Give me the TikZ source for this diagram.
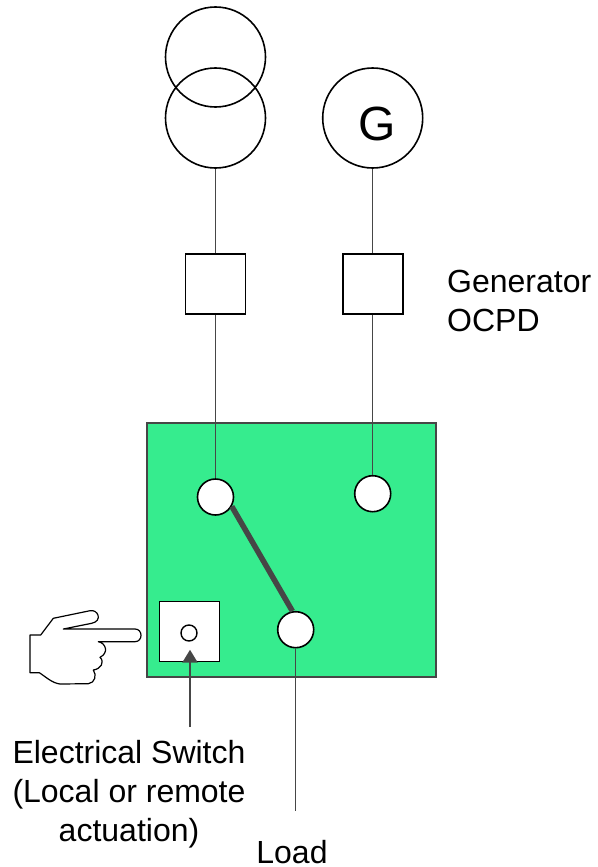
\documentclass[tikz,border=0pt]{standalone}
\usepackage{fontspec}
\setmainfont{Liberation Sans}
\usetikzlibrary{arrows.meta, positioning}
\definecolor{busgreen}{RGB}{54,236,142}
\definecolor{wiregray}{RGB}{70,70,70}
\tikzset{coilnode/.style={circle, draw=black, line width=1.6pt, minimum size=100pt, inner sep=0pt},
ocpdnode/.style={rectangle, draw=black, fill=white, line width=1.6pt, minimum size=60pt, inner sep=0pt},
terminalnode/.style={circle, fill=white, draw=black, line width=1.6pt, minimum size=36pt, inner sep=0pt},
labeltext/.style={font=\fontsize{32}{39}\selectfont, align=center, inner sep=0pt}}
\begin{document}
\begin{tikzpicture}[
        x=1pt, y=-1pt,
        wire/.style={wiregray, line width=1pt}
    ]
        \useasboundingbox (0, 0) rectangle (597, 867);
        % Source symbols
        \node [coilnode] (coiltop) at (215.5, 57) {};
        \node [coilnode] (coilbottom) at (215.5, 118) {};
        \node [coilnode] (generator) at (372.7, 118) {};
        \node [font=\fontsize{48}{48}\selectfont, inner sep=0pt] (genletter) at (377, 124) {G};
        % Breakers
        \node [ocpdnode] (ocpdleft) at (215.5, 284) {};
        \node [ocpdnode] (ocpdright) at (372.7, 284) {};
        \node [labeltext, anchor=north west, align=left] (ocpdlabel) at (447, 270) {Generator\\OCPD};
        % Transfer switch
        \node [rectangle, draw=wiregray, fill=busgreen, line width=1.6pt, minimum width=289pt, minimum height=254pt, inner sep=0pt] (atsbox) at (291.5, 550) {};
        \node [terminalnode] (termleft) at (215.5, 497) {};
        \node [terminalnode] (termright) at (372.7, 493.7) {};
        \node [terminalnode] (termload) at (295.7, 629.7) {};
        \node [ocpdnode] (switchbox) at (189.3, 631.5) {};
        \node [circle, draw=black, fill=white, line width=1.4pt, minimum size=16pt, inner sep=0pt] (switchdot) at (189, 633) {};
        % Lines
        \draw[wire] (coilbottom.south) -- (ocpdleft.north);
        \draw[wire] (generator.south) -- (ocpdright.north);
        \draw[wire] (ocpdleft.south) -- (termleft.north);
        \draw[wire] (ocpdright.south) -- (termright.north);
        \draw[wiregray, line width=5.5pt] (termleft.-30) -- (termload.100);
        \coordinate (loadend) at (295.7, 811);
        \draw[wire] (termload.south) -- (loadend);
        % Hand
        \draw[black, line width=1.2pt, fill=white, line join=round] (30, 635) -- (40.7, 635) -- (53.3, 618.3) -- (90, 610.7)
            .. controls (98, 609) and (103, 621) .. (91.7, 623.3) -- (63.3, 629)
            -- (135, 629) .. controls (143, 629) and (143, 641.7) .. (135, 641.7) -- (98.3, 641.7)
            .. controls (106, 643) and (109, 653) .. (100, 657.3)
            .. controls (105, 662) and (101, 669) .. (93.3, 670)
            .. controls (97, 675) and (95, 683) .. (88.3, 683.7)
            -- (60, 684) .. controls (52, 683) and (46, 677) .. (39.3, 672.7) -- (30, 672.7) -- cycle;
        % Labels
        \coordinate (arrowfoot) at (190, 727);
        \draw[-{Triangle[length=13pt, width=15pt]}, wiregray, line width=2.5pt, shorten >=8pt] (arrowfoot) -- (switchdot.south -| arrowfoot);
        \node [labeltext] (switchlabel) at (129, 794) {Electrical Switch\\(Local or remote\\actuation)};
        \node [labeltext] (loadlabel) at (292, 852) {Load};
    \end{tikzpicture}
\end{document}
